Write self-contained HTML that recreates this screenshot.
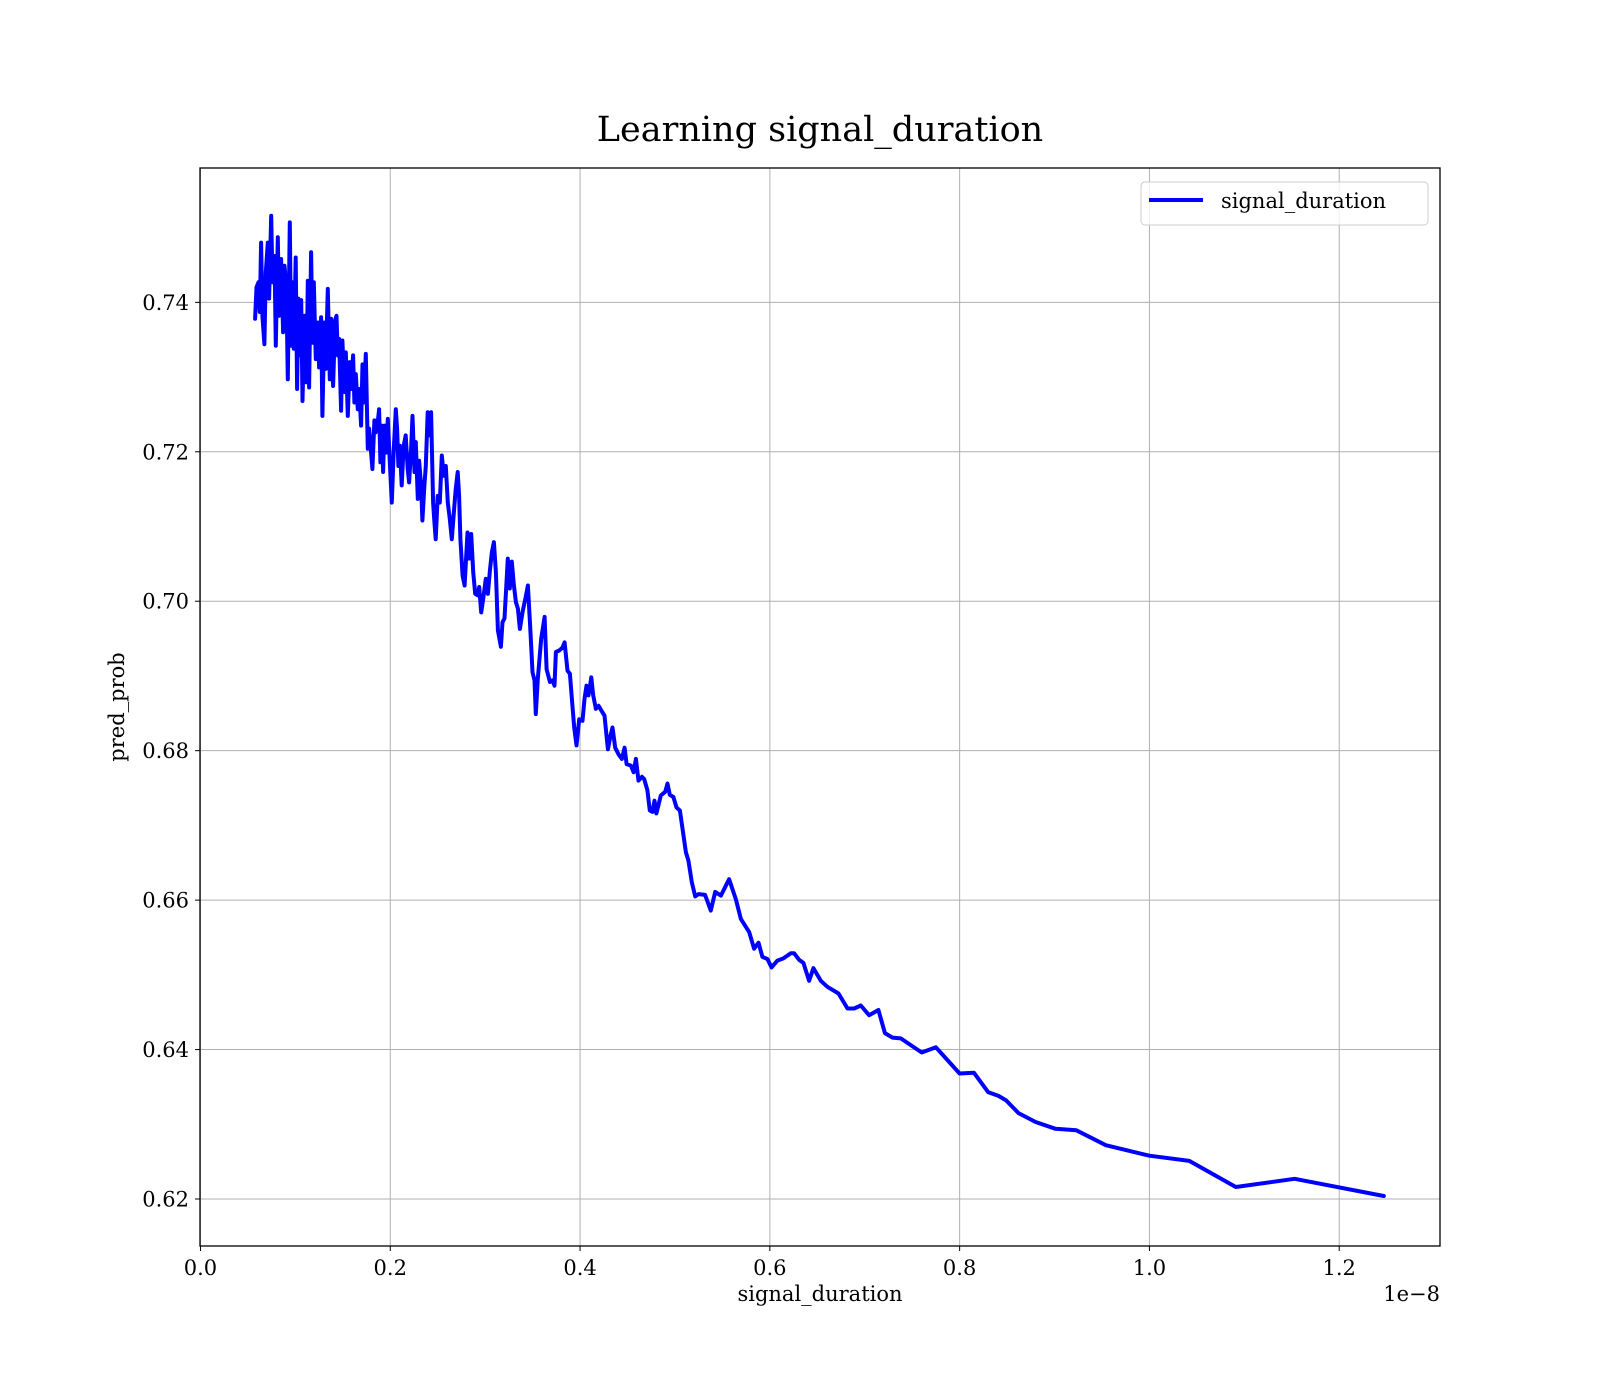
<!DOCTYPE html>
<html><head><meta charset="utf-8"><title>Learning signal_duration</title>
<style>
html,body{margin:0;padding:0;background:#fff;}
svg{display:block;font-family:"DejaVu Serif","Liberation Serif",serif;}
</style></head>
<body>
<svg id="chart" width="1600" height="1400" viewBox="0 0 1600 1400" xmlns="http://www.w3.org/2000/svg">
<rect x="0" y="0" width="1600" height="1400" fill="#fff"/>
<text x="820" y="141" text-anchor="middle" font-size="35" fill="#000">Learning signal_duration</text>
<g id="grid"></g>
<g id="series"></g>
<rect x="200" y="168" width="1240" height="1078" fill="none" stroke="#000" stroke-width="1.3"/>
<g id="ticks"></g>
<text x="820" y="1301" text-anchor="middle" font-size="21" fill="#000">signal_duration</text>
<text x="1440" y="1301" text-anchor="end" font-size="21" fill="#000">1e−8</text>
<text transform="translate(124,707) rotate(-90)" text-anchor="middle" font-size="21" fill="#000">pred_prob</text>
<g>
<rect x="1141" y="182" width="287" height="43" rx="4" fill="#fff" fill-opacity="0.8" stroke="#ccc" stroke-width="1"/>
<line x1="1149" y1="200" x2="1203" y2="200" stroke="#0000ff" stroke-width="4"/>
<text x="1221" y="208" font-size="21" fill="#000">signal_duration</text>
</g>
</svg>
<script>
const xTicks = [0.0, 0.2, 0.4, 0.6, 0.8, 1.0, 1.2];
const xTickLabels = ["0.0","0.2","0.4","0.6","0.8","1.0","1.2"];
const yTicks = [0.62, 0.64, 0.66, 0.68, 0.70, 0.72, 0.74];
const yTickLabels = ["0.62","0.64","0.66","0.68","0.70","0.72","0.74"];
const xs = [0.0576,0.0590,0.0611,0.0625,0.0639,0.0653,0.0674,0.0688,0.0709,0.0723,0.0745,0.0759,0.0780,0.0794,0.0815,0.0829,0.0850,0.0871,0.0885,0.0906,0.0920,0.0941,0.0955,0.0969,0.0983,0.1004,0.1018,0.1032,0.1047,0.1061,0.1075,0.1096,0.1117,0.1131,0.1145,0.1166,0.1180,0.1194,0.1215,0.1236,0.1250,0.1271,0.1285,0.1306,0.1320,0.1342,0.1363,0.1377,0.1398,0.1419,0.1433,0.1447,0.1461,0.1482,0.1496,0.1517,0.1531,0.1552,0.1573,0.1587,0.1608,0.1622,0.1637,0.1658,0.1672,0.1693,0.1707,0.1721,0.1742,0.1763,0.1777,0.1798,0.1812,0.1833,0.1847,0.1868,0.1882,0.1896,0.1910,0.1925,0.1939,0.1960,0.1974,0.1995,0.2016,0.2037,0.2058,0.2072,0.2086,0.2100,0.2121,0.2142,0.2163,0.2184,0.2198,0.2220,0.2234,0.2255,0.2269,0.2290,0.2304,0.2325,0.2339,0.2360,0.2374,0.2395,0.2416,0.2430,0.2451,0.2465,0.2479,0.2500,0.2522,0.2543,0.2564,0.2585,0.2606,0.2627,0.2648,0.2676,0.2690,0.2711,0.2725,0.2739,
0.2762,0.2783,0.2814,0.2832,0.2853,0.2874,0.2895,0.2920,0.2937,0.2958,0.2979,0.3007,0.3029,0.3050,0.3071,0.3092,0.3113,0.3134,0.3166,0.3183,0.3204,0.3239,0.3260,0.3281,0.3303,0.3324,0.3345,0.3366,0.3394,0.3429,0.3450,0.3478,0.3499,0.3520,0.3534,0.3555,0.3591,0.3626,0.3647,0.3682,0.3710,0.3731,0.3745,0.3780,0.3815,0.3837,0.3868,0.3893,0.3914,0.3938,0.3963,0.3991,0.4026,0.4047,0.4068,0.4089,0.4118,0.4139,0.4167,0.4195,0.4223,0.4258,0.4293,0.4321,0.4342,0.4370,0.4406,0.4441,0.4469,0.4490,0.4536,0.4564,0.4588,0.4616,0.4652,
0.4676,0.4710,0.4735,0.4763,0.4784,0.4805,0.4851,0.4897,0.4921,0.4946,0.4984,0.5016,0.5052,0.5115,0.5142,0.5178,0.5213,0.5248,0.5318,0.5378,0.5424,0.5484,0.5571,0.5642,0.5694,0.5782,0.5834,0.5880,0.5922,0.5975,0.6017,0.6080,0.6143,0.6221,0.6256,0.6309,0.6354,0.6414,0.6459,0.6537,0.6607,0.6723,0.6818,0.6888,0.6958,0.7046,0.7144,0.7212,0.7292,0.7380,0.7600,0.7750,0.8000,0.8150,0.8300,0.8410,0.8490,0.8620,0.8800,0.9010,0.9230,0.9540,1.0000,1.0420,1.0910,1.1530,1.2470];
const ys = [0.7378,0.7420,0.7427,0.7387,0.7480,0.7382,0.7344,0.7440,0.7480,0.7405,0.7516,0.7427,0.7462,0.7342,0.7487,0.7382,0.7458,0.7360,0.7449,0.7418,0.7297,0.7507,0.7342,0.7427,0.7338,0.7460,0.7284,0.7405,0.7329,0.7403,0.7268,0.7382,0.7293,0.7429,0.7286,0.7467,0.7346,0.7427,0.7324,0.7373,0.7313,0.7380,0.7248,0.7373,0.7311,0.7418,0.7297,0.7378,0.7288,0.7376,0.7382,0.7329,0.7351,0.7255,0.7349,0.7280,0.7333,0.7248,0.7320,0.7284,0.7329,0.7266,0.7304,0.7257,0.7284,0.7235,0.7317,0.7266,0.7331,0.7204,0.7231,0.7199,0.7177,0.7242,0.7226,0.7239,0.7257,0.7186,0.7235,0.7173,0.7235,0.7199,0.7244,0.7186,0.7132,0.7204,0.7257,0.7231,0.7181,0.7208,0.7155,0.7208,0.7222,0.7177,0.7159,0.7204,0.7248,0.7173,0.7213,0.7137,0.7188,0.7155,0.7108,0.7155,0.7181,0.7253,0.7222,0.7253,0.7132,0.7106,0.7083,0.7141,0.7132,0.7195,0.7168,0.7181,0.7132,0.7110,0.7083,0.7128,0.7150,0.7173,0.7141,0.7083,
0.7034,0.7021,0.7092,0.7057,0.7090,0.7039,0.7010,0.7008,0.7019,0.6985,0.7003,0.7030,0.7010,0.7041,0.7066,0.7079,0.7039,0.6961,0.6939,0.6972,0.6977,0.7057,0.7017,0.7053,0.7021,0.6999,0.6990,0.6963,0.6985,0.7007,0.7021,0.6958,0.6905,0.6894,0.6849,0.6896,0.6950,0.6979,0.6909,0.6892,0.6894,0.6887,0.6932,0.6934,0.6938,0.6945,0.6907,0.6903,0.6869,0.6831,0.6807,0.6842,0.6840,0.6869,0.6887,0.6874,0.6898,0.6874,0.6856,0.6860,0.6854,0.6847,0.6802,0.6820,0.6831,0.6804,0.6795,0.6789,0.6804,0.6782,0.6780,0.6771,0.6789,0.6760,0.6765,
0.6762,0.6747,0.6720,0.6718,0.6733,0.6716,0.6740,0.6745,0.6756,0.6741,0.6738,0.6724,0.6720,0.6664,0.6653,0.6624,0.6605,0.6608,0.6607,0.6586,0.6611,0.6606,0.6628,0.6601,0.6575,0.6557,0.6535,0.6543,0.6524,0.6521,0.6510,0.6519,0.6522,0.6529,0.6529,0.6520,0.6516,0.6492,0.6509,0.6492,0.6484,0.6475,0.6455,0.6455,0.6459,0.6446,0.6453,0.6422,0.6416,0.6415,0.6396,0.6403,0.6368,0.6369,0.6343,0.6338,0.6332,0.6315,0.6303,0.6294,0.6292,0.6272,0.6258,0.6251,0.6216,0.6227,0.6204];

const NS = "http://www.w3.org/2000/svg";
const L = 200, R = 1440, T = 168, B = 1246;
const X0 = -0.0005, X1 = 1.3062;
const Y0 = 0.61371, Y1 = 0.75798;
function sx(v){ return L + (v - X0) / (X1 - X0) * (R - L); }
function sy(v){ return B - (v - Y0) / (Y1 - Y0) * (B - T); }

const grid = document.getElementById('grid');
const ticks = document.getElementById('ticks');
function mk(tag, attrs){ const e = document.createElementNS(NS, tag); for (const k in attrs) e.setAttribute(k, attrs[k]); return e; }

xTicks.forEach((t, i) => {
  const x = sx(t);
  const g = mk('line', {x1:x, y1:T, x2:x, y2:B, stroke:'#b0b0b0', 'stroke-width':1});
  
  
  grid.appendChild(g);
  const tk = mk('line', {x1:x, y1:B, x2:x, y2:B+5, stroke:'#000', 'stroke-width':1});
  
  
  ticks.appendChild(tk);
  const lb = mk('text', {x:x, y:B+29, 'text-anchor':'middle', 'font-size':21, fill:'#000'});
  lb.textContent = xTickLabels[i];
  
  
  ticks.appendChild(lb);
});
yTicks.forEach((t, i) => {
  const y = sy(t);
  const g = mk('line', {x1:L, y1:y, x2:R, y2:y, stroke:'#b0b0b0', 'stroke-width':1});
  
  
  grid.appendChild(g);
  const tk = mk('line', {x1:L-5, y1:y, x2:L, y2:y, stroke:'#000', 'stroke-width':1});
  
  
  ticks.appendChild(tk);
  const lb = mk('text', {x:L-11, y:y+7.5, 'text-anchor':'end', 'font-size':21, fill:'#000'});
  lb.textContent = yTickLabels[i];
  
  
  ticks.appendChild(lb);
});

const pts = xs.map((x, i) => sx(x).toFixed(1) + ',' + sy(ys[i]).toFixed(1)).join(' ');
const line = mk('polyline', {points:pts, fill:'none', stroke:'#0000ff', 'stroke-width':4, 'stroke-linejoin':'round', 'stroke-linecap':'round'});


document.getElementById('series').appendChild(line);
</script>
</body></html>
